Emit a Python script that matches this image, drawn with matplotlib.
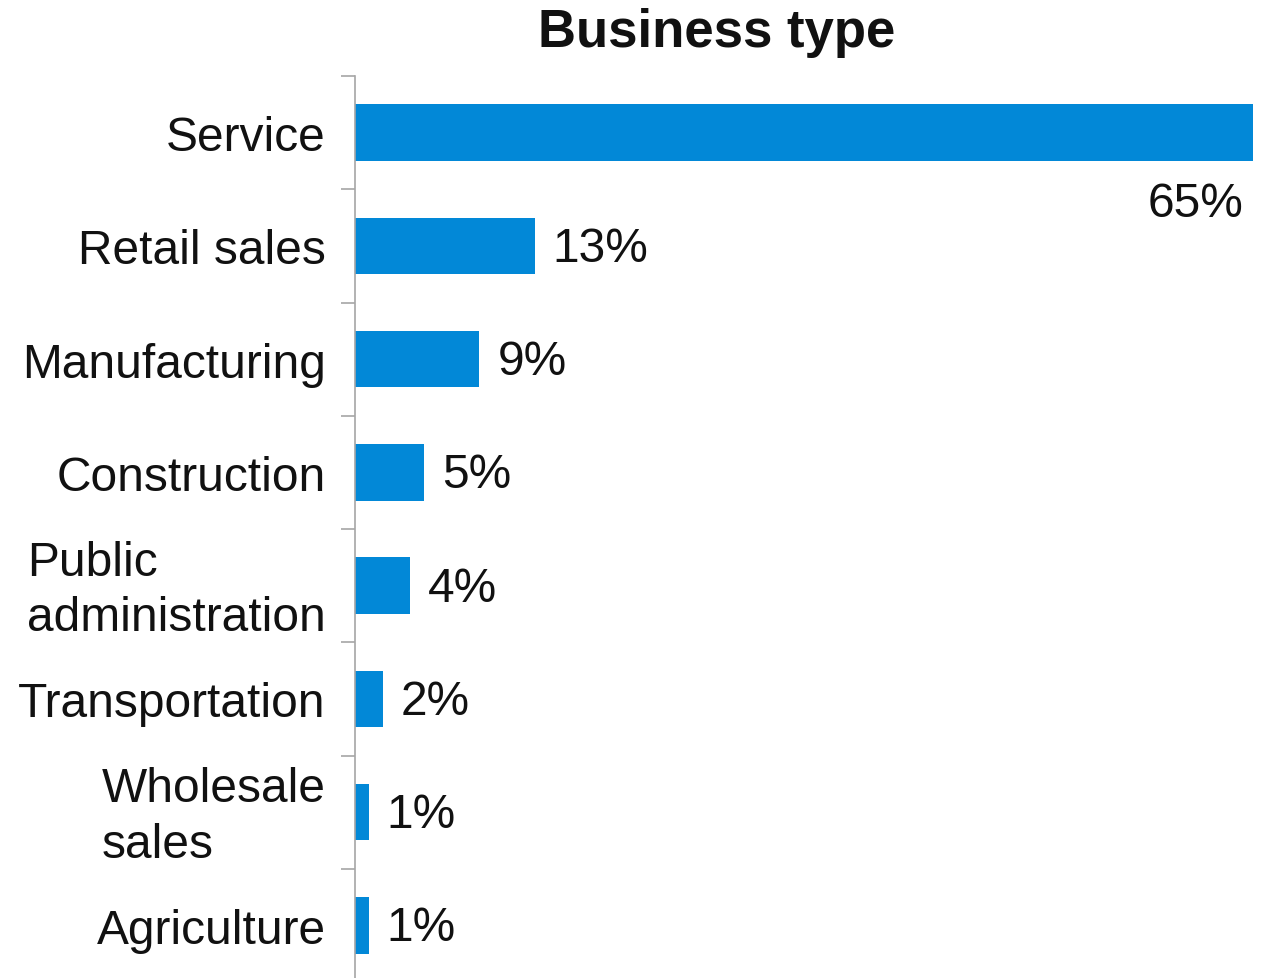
import matplotlib
matplotlib.use("Agg")
import matplotlib.pyplot as plt
import matplotlib.transforms as mtransforms
import numpy as np

plt.rcParams["font.family"] = ["Liberation Sans", "DejaVu Sans"]

categories = ["Service", "Retail sales", "Manufacturing", "Construction",
              "Public\nadministration", "Transportation", "Wholesale\nsales",
              "Agriculture"]
shares = [65, 13, 9, 5, 4, 2, 1, 1]
value_labels = ["65%", "13%", "9%", "5%", "4%", "2%", "1%", "1%"]

BAR_COLOR = "#0288D7"
AXIS_COLOR = "#A6A6A6"
FS = 34.5
CAP = 0.716 * FS  # cap height of the label font, in points

fig = plt.figure(figsize=(12.73, 9.79), dpi=100)
ax = fig.add_axes([355 / 1273, -4 / 979, 898 / 1273, 906 / 979])

y = np.arange(len(categories))
ax.barh(y, shares, height=0.5, color=BAR_COLOR)
ax.set_ylim(len(categories) - 0.5, -0.5)
ax.set_xlim(0, max(shares))

for yi, val, lbl in zip(y, shares, value_labels):
    if val == max(shares):
        ax.annotate(lbl, xy=(val, yi), xytext=(-7, -60), textcoords="offset points",
                    ha="right", va="baseline", fontsize=FS, color="#111111")
    else:
        ax.annotate(lbl, xy=(val, yi), xytext=(13, -CAP / 2 + 1.5), textcoords="offset points",
                    ha="left", va="baseline", fontsize=FS, color="#111111")

# category names sit at bar centres, tick marks at the boundaries
ax.set_yticks(y)
ax.set_yticklabels(categories, fontsize=FS, color="#111111")
ax.tick_params(axis="y", which="major", length=0, pad=21)
ax.set_yticks(np.arange(-0.5, len(categories)), minor=True)
ax.tick_params(axis="y", which="minor", length=10, width=1.2, color=AXIS_COLOR)

# two-line names: left-aligned block, lifted a little
nudge = mtransforms.ScaledTranslation(0, 6 / 100, fig.dpi_scale_trans)
for t in ax.get_yticklabels():
    t.set_multialignment("left")
    t.set_linespacing(1.3)
    if "\n" in t.get_text():
        t.set_transform(t.get_transform() + nudge)

ax.set_xticks([])
for side in ["top", "right", "bottom"]:
    ax.spines[side].set_visible(False)
ax.spines["left"].set_color(AXIS_COLOR)
ax.spines["left"].set_linewidth(1.2)

fig.text(717 / 1273, 1 - 33 / 979, "Business type", ha="center", va="center",
         fontsize=38, fontweight="bold", color="#111111")

fig.savefig("out.png", dpi=100)
